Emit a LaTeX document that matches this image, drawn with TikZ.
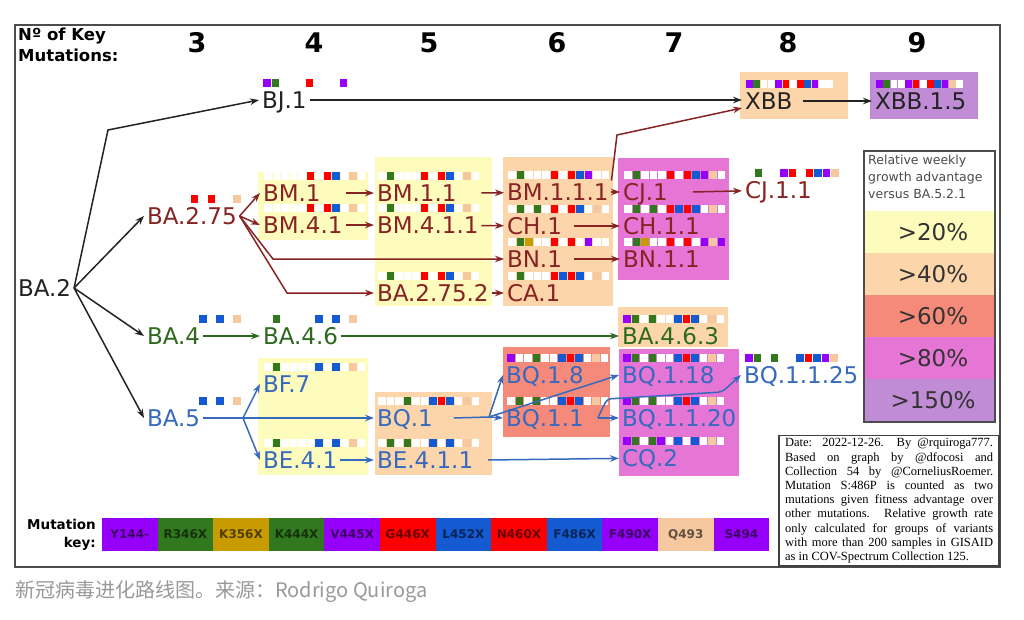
\documentclass[tikz,border=0pt]{standalone}
\usepackage{fontspec}
\setmainfont{DejaVu Sans}
\newfontfamily\notefont{Liberation Serif}
\newfontfamily\cjk{Noto Sans CJK SC}
\usepackage{tikz}
\usetikzlibrary{arrows.meta}

% mutation colours
\definecolor{mP}{RGB}{150,0,250}
\definecolor{mG}{RGB}{50,120,30}
\definecolor{mK}{RGB}{200,155,0}
\definecolor{mR}{RGB}{255,0,0}
\definecolor{mB}{RGB}{20,90,210}
\definecolor{mQ}{RGB}{245,200,160}
\definecolor{mW}{RGB}{255,255,255}
% growth groups
\definecolor{gYel}{RGB}{253,252,188}
\definecolor{gOra}{RGB}{252,214,170}
\definecolor{gSal}{RGB}{246,138,122}
\definecolor{gPnk}{RGB}{230,118,214}
\definecolor{gVio}{RGB}{192,140,214}
% lineages
\definecolor{cRed}{RGB}{135,35,35}
\definecolor{cGrn}{RGB}{45,105,30}
\definecolor{cBlu}{RGB}{55,105,190}
\definecolor{cBlk}{RGB}{35,35,35}

% row of 12 mutation squares above a variant
\newcommand\mrow[3][8.5]{%
  \foreach \mc [count=\mi from 0] in {#3}
    \fill[m\mc] ([shift={({4+\mi*#1},-13)}]#2.west) rectangle ++(#1-0.6,-8);}

\begin{document}
\begin{tikzpicture}[x=1pt, y=-1pt, >={Stealth[length=9pt,width=6.5pt]},
    var/.style={anchor=west, inner sep=0pt, outer sep=3pt,
                font=\fontsize{23}{26}\selectfont, text height=17pt, text depth=0pt},
    vK/.style={var, text=cBlk}, vR/.style={var, text=cRed},
    vG/.style={var, text=cGrn}, vB/.style={var, text=cBlu},
    eK/.style={->, line width=1.5pt, draw=cBlk}, eR/.style={->, line width=1.5pt, draw=cRed},
    eG/.style={->, line width=1.5pt, draw=cGrn}, eB/.style={->, line width=1.5pt, draw=cBlu},
    frame/.style={line width=1.8pt, draw=black!70}]
    \useasboundingbox (0,0) rectangle (1024,620);
    \fill[white] (0,0) rectangle (1024,620);

    % group boxes
    \fill[gYel] (258,172) rectangle (368,240);
    \fill[gYel] (375,157) rectangle (492,306);
    \fill[gOra] (503,157) rectangle (613,306);
    \fill[gPnk] (618,158) rectangle (729,280);
    \fill[gOra] (618,307) rectangle (728,347);
    \fill[gYel] (258,358) rectangle (368,475);
    \fill[gOra] (375,392) rectangle (492,475);
    \fill[gSal] (503,347) rectangle (610,437);
    \fill[gPnk] (619,349) rectangle (739,476);
    \fill[gOra] (740,72) rectangle (848,119);
    \fill[gVio] (870,72) rectangle (978,119);

    % header
    \node (hdr) [anchor=north west, inner sep=0pt, align=left,
                 font=\bfseries\fontsize{16.5}{21}\selectfont] at (18,28) {Nº of Key\\Mutations:};
    \foreach \n/\x in {3/197,4/314,5/429,6/557,7/674,8/788,9/917}
        \node (col\n) [font=\bfseries\fontsize{27}{30}\selectfont] at (\x,43) {\n};

    % variants
    \node[vK] (ba2)    at (15,288)  {BA.2};
    \node[vK] (bj1)    at (259,100) {BJ.1};
    \node[vK] (xbb)    at (742,101) {XBB};
    \node[vK] (xbb15)  at (872,101) {XBB.1.5};
    \node[vR] (ba275)  at (144,216) {BA.2.75};
    \node[vR] (bm1)    at (260,193) {BM.1};
    \node[vR] (bm41)   at (260,225) {BM.4.1};
    \node[vR] (bm11)   at (374,193) {BM.1.1};
    \node[vR] (bm411)  at (374,225) {BM.4.1.1};
    \node[vR] (ba2752) at (374,293) {BA.2.75.2};
    \node[vR] (bm111)  at (504,192) {BM.1.1.1};
    \node[vR] (ch1)    at (504,226) {CH.1};
    \node[vR] (bn1)    at (504,259) {BN.1};
    \node[vR] (ca1)    at (504,293) {CA.1};
    \node[vR] (cj1)    at (620,192) {CJ.1};
    \node[vR] (ch11)   at (620,226) {CH.1.1};
    \node[vR] (bn11)   at (620,259) {BN.1.1};
    \node[vR] (cj11)   at (742,190) {CJ.1.1};
    \node[vG] (ba4)    at (144,336) {BA.4};
    \node[vG] (ba46)   at (260,336) {BA.4.6};
    \node[vG] (ba463)  at (619,336) {BA.4.6.3};
    \node[vB] (ba5)    at (144,418) {BA.5};
    \node[vB] (bf7)    at (260,384) {BF.7};
    \node[vB] (be41)   at (260,460) {BE.4.1};
    \node[vB] (bq1)    at (374,418) {BQ.1};
    \node[vB] (be411)  at (374,460) {BE.4.1.1};
    \node[vB] (bq18)   at (503,375) {BQ.1.8};
    \node[vB] (bq11)   at (503,418) {BQ.1.1};
    \node[vB] (bq118)  at (619,375) {BQ.1.18};
    \node[vB] (bq1120) at (619,418) {BQ.1.1.20};
    \node[vB] (cq2)    at (619,458) {CQ.2};
    \node[vB] (bq1125) at (741,375) {BQ.1.1.25};

    % mutation squares
    \mrow{bj1}{P,G,W,W,W,R,W,W,W,P,W,W}
    \mrow[7.3]{xbb}{P,G,W,W,P,R,W,R,B,P,W,W}
    \mrow[7.3]{xbb15}{P,G,W,W,P,R,W,R,B,P,Q,W}
    \mrow{ba275}{W,W,W,W,W,R,W,R,W,W,Q,W}
    \mrow{bm1}{W,W,W,W,W,R,W,R,B,W,Q,W}
    \mrow{bm41}{W,W,W,W,W,R,W,R,B,W,Q,W}
    \mrow{bm11}{W,G,W,W,W,R,W,R,B,W,Q,W}
    \mrow{bm411}{W,G,W,W,W,R,W,R,B,W,Q,W}
    \mrow{ba2752}{W,G,W,W,W,R,W,R,B,W,Q,W}
    \mrow{bm111}{W,G,W,W,W,R,W,R,B,P,W,W}
    \mrow{ch1}{W,G,W,G,W,R,W,R,B,W,Q,W}
    \mrow{bn1}{W,G,K,W,W,R,W,R,W,P,W,W}
    \mrow{ca1}{W,G,W,W,W,R,B,R,B,W,Q,W}
    \mrow{cj1}{W,G,W,W,W,R,W,R,B,P,Q,W}
    \mrow{ch11}{W,G,W,G,W,R,B,R,B,W,Q,W}
    \mrow{bn11}{W,G,K,W,W,R,W,R,W,P,Q,P}
    \mrow{cj11}{W,G,W,W,P,R,W,R,B,P,Q,W}
    \mrow{ba4}{W,W,W,W,W,W,B,W,B,W,Q,W}
    \mrow{ba46}{W,G,W,W,W,W,B,W,B,W,Q,W}
    \mrow{ba463}{P,G,W,G,W,W,B,R,B,W,Q,W}
    \mrow{ba5}{W,W,W,W,W,W,B,W,B,W,Q,W}
    \mrow{bf7}{W,G,W,W,W,W,B,W,B,W,Q,W}
    \mrow{be41}{W,G,W,W,W,W,B,W,B,W,Q,W}
    \mrow{bq1}{W,W,W,G,W,W,B,R,B,W,Q,W}
    \mrow{be411}{W,G,W,G,W,W,B,W,B,W,Q,W}
    \mrow{bq18}{P,W,W,G,W,W,B,R,B,W,Q,W}
    \mrow{bq11}{W,G,W,G,W,W,B,R,B,W,Q,W}
    \mrow{bq118}{P,G,W,G,W,W,B,R,B,W,Q,W}
    \mrow{bq1120}{P,G,W,G,W,W,B,R,B,W,Q,W}
    \mrow{cq2}{P,G,W,G,P,W,B,W,B,W,Q,W}
    \mrow{bq1125}{P,G,W,G,W,W,B,R,B,P,Q,W}

    % BA.2 and recombinants
    \coordinate (bjbend) at (108,130);
    \draw[eK] (ba2.east) -- (bjbend) -- (bj1.west);
    \draw[eK] (ba2.east) -- (ba275.west);
    \draw[eK] (ba2.east) -- (ba4.west);
    \draw[eK] (ba2.east) -- (ba5.west);
    \draw[eK] (bj1.east) -- (xbb.west |- bj1.east);
    \draw[eK] ([xshift=8pt]xbb.east) -- (xbb15);

    % BA.2.75 lineage
    \draw[eR] (ba275.east) -- (bm1.west);
    \draw[eR] (ba275.east) -- (bm41.west);
    \draw[eR] (ba275.east) -- (273,259) -- (bn1.west);
    \draw[eR] (ba275.east) -- (287,293) -- (ba2752.west);
    \draw[eR] (bm41.east |- bm1) -- (bm11);
    \draw[eR] (bm41) -- (bm411);
    \draw[eR] (bm411.east |- bm11) -- (bm111);
    \draw[eR] (bm411) -- (ch1);
    \draw[eR] (ba2752) -- (ca1);
    \draw[eR] (bm111) -- (cj1);
    \draw[eR] (bm111.north east) -- (617,135) -- ([yshift=-7pt]xbb.west);
    \draw[eR] ([xshift=9pt]ch1.east) -- (ch11);
    \draw[eR] ([xshift=9pt]bn1.east) -- (bn11);
    \draw[eR] ([xshift=22pt]cj1.east) -- (cj11);

    % BA.4 lineage
    \draw[eG] (ba4) -- (ba46);
    \draw[eG] (ba46) -- (ba463);

    % BA.5 lineage
    \coordinate (fork5) at (243,418);
    \coordinate (fork1) at (489,417);
    \draw[eB] (ba5) -- (bq1);
    \draw[eB] (fork5) -- (bf7.west);
    \draw[eB] (fork5) -- (be41.west);
    \draw[eB] (be41) -- (be411);
    \draw[eB] ([xshift=12pt]be411.east) -- (cq2);
    \draw[line width=1.5pt, cBlu] ([xshift=18pt]bq1.east) -- (fork1);
    \draw[eB] (fork1) -- (bq18.west);
    \draw[eB] (fork1) -- (bq11.west);
    \draw[eB] (fork1) -- (bq118.west);
    \draw[eB] ([xshift=11pt]bq11.east) -- (bq1120);
    \draw[eB, rounded corners=4pt] ([xshift=11pt]bq11.east) -- (607,399) -- (722,392) -- (bq1125.west);

    % frame
    \draw[frame] (15,25) rectangle (1000,567);

    % legend
    \draw[frame] (864,151) rectangle (995,422);
    \node (lghead) [anchor=north west, inner sep=0pt, align=left, text=black!70,
                    font=\fontsize{12.5}{17}\selectfont] at (868,155) {Relative weekly\\growth advantage\\versus BA.5.2.1};
    \foreach \bc/\bt [count=\k from 0] in {gYel/20, gOra/40, gSal/60, gPnk/80, gVio/150} {
        \fill[\bc] (865,{211+\k*42}) rectangle (994,{253+\k*42});
        \node (lg\k) [font=\fontsize{23}{26}\selectfont, text=black!80] at (933,{232+\k*42}) {>\bt\%};
    }

    % mutation key
    \node (keylab) [anchor=east, align=right, inner sep=0pt,
                    font=\bfseries\fontsize{13.5}{18}\selectfont] at (96,535) {Mutation\\key:};
    \foreach \kc/\kt [count=\k from 0] in {mP/Y144-, mG/R346X, mK/K356X, mG/K444X, mP/V445X, mR/G446X,
                                           mB/L452X, mR/N460X, mB/F486X, mP/F490X, mQ/Q493, mP/S494} {
        \fill[\kc] ({102+\k*55.6},518) rectangle ({102+(\k+1)*55.6},551);
        \node (key\k) [font=\bfseries\fontsize{12}{14}\selectfont, text=\kc!40!black]
            at ({102+(\k+0.5)*55.6},534.5) {\kt};
    }

    % note
    \node (note) [draw=black!75, line width=1.8pt, anchor=south east, inner xsep=6pt, inner ysep=3pt,
                  align=left, font=\notefont\fontsize{12.5}{14.2}\selectfont] at (1000,567) {%
        \makebox[208pt][s]{Date: 2022-12-26. By @rquiroga777.}\\
        \makebox[208pt][s]{Based on graph by @dfocosi and}\\
        \makebox[208pt][s]{Collection 54 by @CorneliusRoemer.}\\
        \makebox[208pt][s]{Mutation S:486P is counted as two}\\
        \makebox[208pt][s]{mutations given fitness advantage over}\\
        \makebox[208pt][s]{other mutations. Relative growth rate}\\
        \makebox[208pt][s]{only calculated for groups of variants}\\
        \makebox[208pt][s]{with more than 200 samples in GISAID}\\
        \makebox[208pt][l]{as in COV-Spectrum Collection 125.}};

    % caption
    \node (cap) [anchor=west, inner sep=0pt, text=black!40,
                 font=\cjk\fontsize{20}{23}\selectfont] at (15,592) {新冠病毒进化路线图。来源：Rodrigo Quiroga};
\end{tikzpicture}
\end{document}
